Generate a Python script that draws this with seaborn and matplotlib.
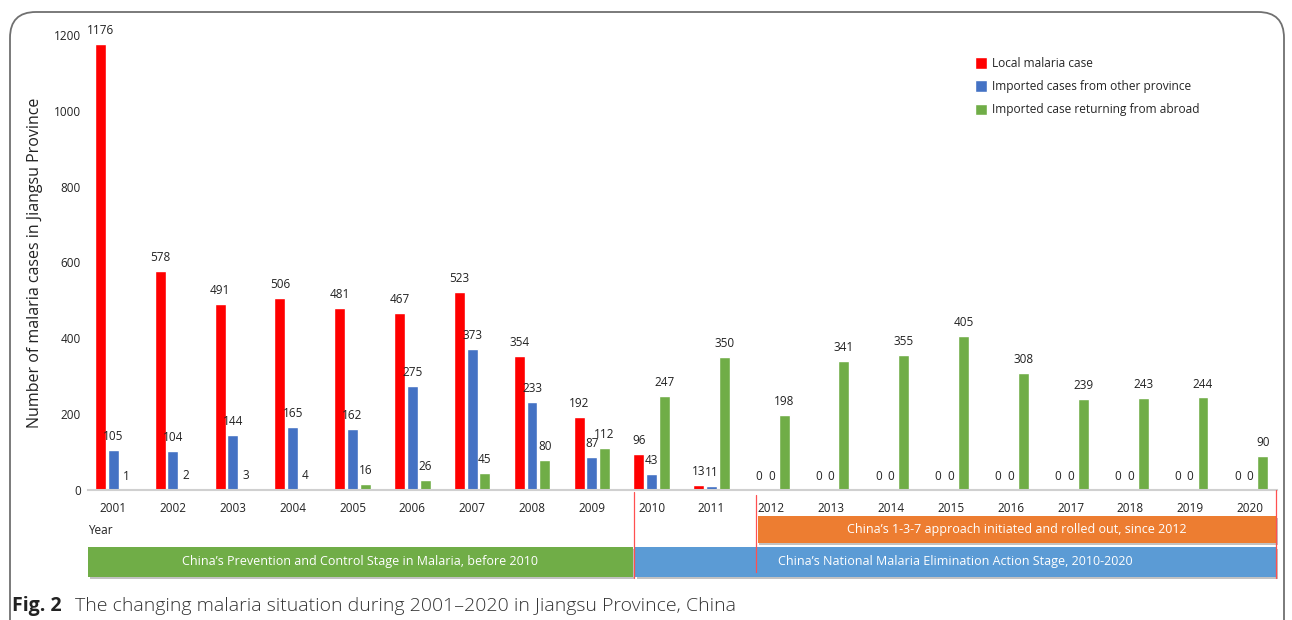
import matplotlib
matplotlib.use("Agg")
import matplotlib.pyplot as plt
import matplotlib.transforms as mtransforms
from matplotlib.patches import FancyBboxPatch, Rectangle
import seaborn as sns
import pandas as pd

years = [str(y) for y in range(2001, 2021)]
local_cases = [1176, 578, 491, 506, 481, 467, 523, 354, 192, 96, 13, 0, 0, 0, 0, 0, 0, 0, 0, 0]
other_province = [105, 104, 144, 165, 162, 275, 373, 233, 87, 43, 11, 0, 0, 0, 0, 0, 0, 0, 0, 0]
abroad = [1, 2, 3, 4, 16, 26, 45, 80, 112, 247, 350, 198, 341, 355, 405, 308, 239, 243, 244, 90]
series_names = ["Local malaria case", "Imported cases from other province",
                "Imported case returning from abroad"]
series_colors = ["#FF0000", "#4472C4", "#70AD47"]
y_ticks = [0, 200, 400, 600, 800, 1000, 1200]

rows = []
for name, vals in zip(series_names, [local_cases, other_province, abroad]):
    for yr, v in zip(years, vals):
        rows.append({"Year": yr, "Series": name, "Cases": v})
df = pd.DataFrame(rows)

sns.set_style("white")
plt.rcParams["font.family"] = ["Open Sans", "DejaVu Sans"]

fig = plt.figure(figsize=(12.92, 6.2), dpi=100)
W, H = 1292, 620
ax = fig.add_axes([88 / W, 1 - 490 / H, (1277 - 88) / W, (490 - 35) / H])

sns.barplot(data=df, x="Year", y="Cases", hue="Series", hue_order=series_names,
            palette=series_colors, width=0.64, gap=0.14, ax=ax, saturation=1,
            errorbar=None)

for cont in ax.containers:
    ax.bar_label(cont, padding=5, fontsize=8.5, color="#222222")

ax.set_ylim(0, 1200)
ax.set_xlim(-0.42, 19.45)
ax.set_yticks(y_ticks)
ax.tick_params(axis="both", length=0, labelsize=8.5, colors="#222222")
ax.tick_params(axis="x", pad=9)
ax.tick_params(axis="y", pad=5)
ax.set_xlabel("")
ax.set_ylabel("Number of malaria cases in Jiangsu Province", fontsize=11.5,
              color="#222222", labelpad=8)
for s in ["top", "right", "left"]:
    ax.spines[s].set_visible(False)
ax.spines["bottom"].set_color("#d0d0d0")
ax.spines["bottom"].set_linewidth(1.5)

leg = ax.legend(loc="upper left", bbox_to_anchor=(0.737, 0.975), frameon=False,
                fontsize=8.6, handlelength=1.0, handleheight=1.1,
                labelspacing=0.85, handletextpad=0.45)

trans = mtransforms.blended_transform_factory(ax.transData, fig.transFigure)

def fy(py):
    return 1 - py / H

# "Year" label
ax.text(-0.42, fy(531), "Year", transform=trans, fontsize=8.5, color="#222222",
        va="center", ha="left")

def stage_box(x0, x1, ytop, ybot, color, text):
    sh = Rectangle((x0 + 0.03, fy(ybot + 2)), x1 - x0, fy(ytop) - fy(ybot),
                   transform=trans, facecolor="#9a9a9a", edgecolor="none",
                   alpha=0.6, clip_on=False, zorder=2)
    ax.add_patch(sh)
    r = Rectangle((x0, fy(ybot)), x1 - x0, fy(ytop) - fy(ybot), transform=trans,
                  facecolor=color, edgecolor="none", clip_on=False, zorder=3)
    ax.add_patch(r)
    ax.text((x0 + x1) / 2, (fy(ytop) + fy(ybot)) / 2, text, transform=trans,
            ha="center", va="center", color="white", fontsize=9, zorder=4)

stage_box(10.77, 19.43, 516, 543, "#ED7D31",
          "China\u2019s 1-3-7 approach initiated and rolled out, since 2012")
stage_box(-0.42, 8.68, 547, 577, "#70AD47",
          "China\u2019s Prevention and Control Stage in Malaria, before 2010")
stage_box(8.72, 19.43, 547, 577, "#5B9BD5",
          "China\u2019s National Malaria Elimination Action Stage, 2010-2020")

# red divider lines
for xv, y0, y1 in [(8.70, 492, 578), (10.75, 495, 572), (19.43, 490, 578)]:
    ax.plot([xv, xv], [fy(y0), fy(y1)], transform=trans, color="#FF5050",
            lw=0.9, clip_on=False, zorder=5)

# border
border = FancyBboxPatch((10 / W, -0.1), (1284 - 10) / W, 1.1 - 12 / H,
                        boxstyle="round,pad=0,rounding_size=0.02",
                        transform=fig.transFigure, facecolor="none",
                        edgecolor="#707070", lw=1.3, mutation_aspect=W / H)
fig.patches.append(border)

# caption
fig.text(12 / W, fy(606), "Fig. 2", fontsize=14, fontweight="bold",
         color="#222222", va="center", ha="left")
fig.text(75 / W, fy(606),
         "The changing malaria situation during 2001\u20132020 in Jiangsu Province, China",
         fontsize=14, fontweight="light", color="#333333", va="center", ha="left")

fig.savefig("out.png", dpi=100)
